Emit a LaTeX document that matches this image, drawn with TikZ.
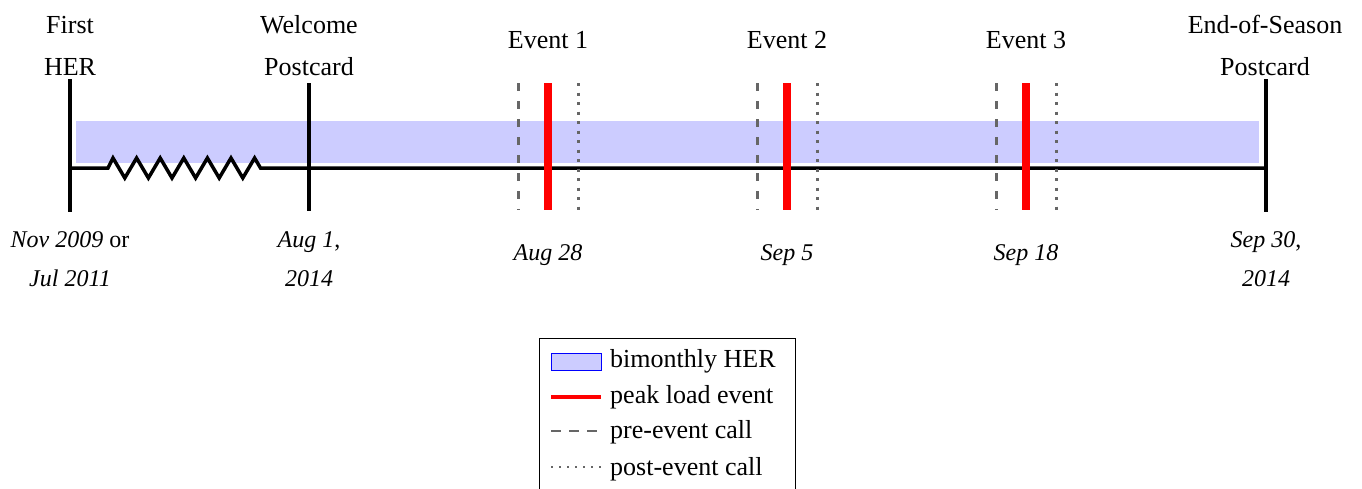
\documentclass[tikz,border=0pt]{standalone}
\usepackage{fontspec}
\setmainfont{Liberation Serif}
\begin{document}
\begin{tikzpicture}[x=1pt,y=-1pt,
  mainline/.style={line width=3.5pt,black},
  tickline/.style={line width=3.5pt,black},
  evtline/.style={line width=8pt,red},
  preline/.style={line width=3pt,black!60,dash pattern=on 8pt off 10pt},
  postline/.style={line width=3pt,black!60,dash pattern=on 3pt off 6.5pt},
  toplbl/.style={font=\fontsize{26}{30}\selectfont,anchor=base,inner sep=0pt},
  botlbl/.style={font=\fontsize{24}{28}\selectfont\itshape,anchor=base,inner sep=0pt},
  leglbl/.style={font=\fontsize{26}{30}\selectfont,anchor=base west,inner sep=0pt},
  band/.style={fill=blue!20,draw=none}]
\clip (0,0) rectangle (1362,488);
% band
\fill[band] (76,121) rectangle (1259,163);
% main line with zigzag
\coordinate (L) at (70,168);
\coordinate (R) at (1266,168);
\coordinate (zs) at (108,168);
\coordinate (ze) at (260.5,168);
\draw[mainline] (L) -- (zs)
  \foreach \k in {0,...,5} { -- ({113+23.6*\k},158) -- ({124.8+23.6*\k},178) }
  -- (254.6,158) -- (ze) -- (R);
% ticks
\foreach \n/\x/\t/\b in {a/70/79/212, b/309/83/211, c/1266/79/212} {
  \coordinate (\n t) at (\x,\t);
  \coordinate (\n b) at (\x,\b);
  \draw[tickline] (\n t) -- (\n b);
}
% events
\foreach \n/\x in {e1/548, e2/787, e3/1026} {
  \coordinate (\n t) at (\x,83);
  \coordinate (\n b) at (\x,210);
  \coordinate (\n pt) at (\x-30,83);
  \coordinate (\n pb) at (\x-30,210);
  \coordinate (\n qt) at (\x+30,83);
  \coordinate (\n qb) at (\x+30,210);
  \draw[preline] (\n pt) -- (\n pb);
  \draw[postline] (\n qt) -- (\n qb);
  \draw[evtline] (\n t) -- (\n b);
}
% top labels
\node[toplbl] (l1a) at (70,33) {First};
\node[toplbl] (l1b) at (70,75) {HER};
\node[toplbl] (l2a) at (309,33) {Welcome};
\node[toplbl] (l2b) at (309,75) {Postcard};
\node[toplbl] (l3) at (548,48) {Event 1};
\node[toplbl] (l4) at (787,48) {Event 2};
\node[toplbl] (l5) at (1026,48) {Event 3};
\node[toplbl] (l6a) at (1265,33) {End-of-Season};
\node[toplbl] (l6b) at (1265,75) {Postcard};
% bottom labels
\node[botlbl] (d1a) at (70,247) {Nov 2009 \upshape or};
\node[botlbl] (d1b) at (70,286) {Jul 2011};
\node[botlbl] (d2a) at (309,247) {Aug 1\upshape ,};
\node[botlbl] (d2b) at (309,286) {2014};
\node[botlbl] (d3) at (548,260) {Aug 28};
\node[botlbl] (d4) at (787,260) {Sep 5};
\node[botlbl] (d5) at (1026,260) {Sep 18};
\node[botlbl] (d6a) at (1266,247) {Sep 30\upshape ,};
\node[botlbl] (d6b) at (1266,286) {2014};
% legend
\draw[line width=1pt] (539.5,338) rectangle (795,500);
\draw[fill=blue!20,draw=blue,line width=1pt] (551,353) rectangle (601,370);
\coordinate (r1) at (551,397);
\coordinate (r2) at (601,397);
\draw[red,line width=4pt] (r1) -- (r2);
\coordinate (s1) at (551,431);
\coordinate (s2) at (601,431);
\draw[black!60,line width=2.5pt,dash pattern=on 10pt off 8pt] (s1) -- (s2);
\coordinate (t1) at (551,467);
\coordinate (t2) at (601,467);
\draw[black!60,line width=2pt,dash pattern=on 2pt off 6pt] (t1) -- (t2);
\node[leglbl] (g1) at (610,367) {bimonthly HER};
\node[leglbl] (g2) at (610,403) {peak load event};
\node[leglbl] (g3) at (610,438) {pre-event call};
\node[leglbl] (g4) at (610,475) {post-event call};
\end{tikzpicture}
\end{document}
